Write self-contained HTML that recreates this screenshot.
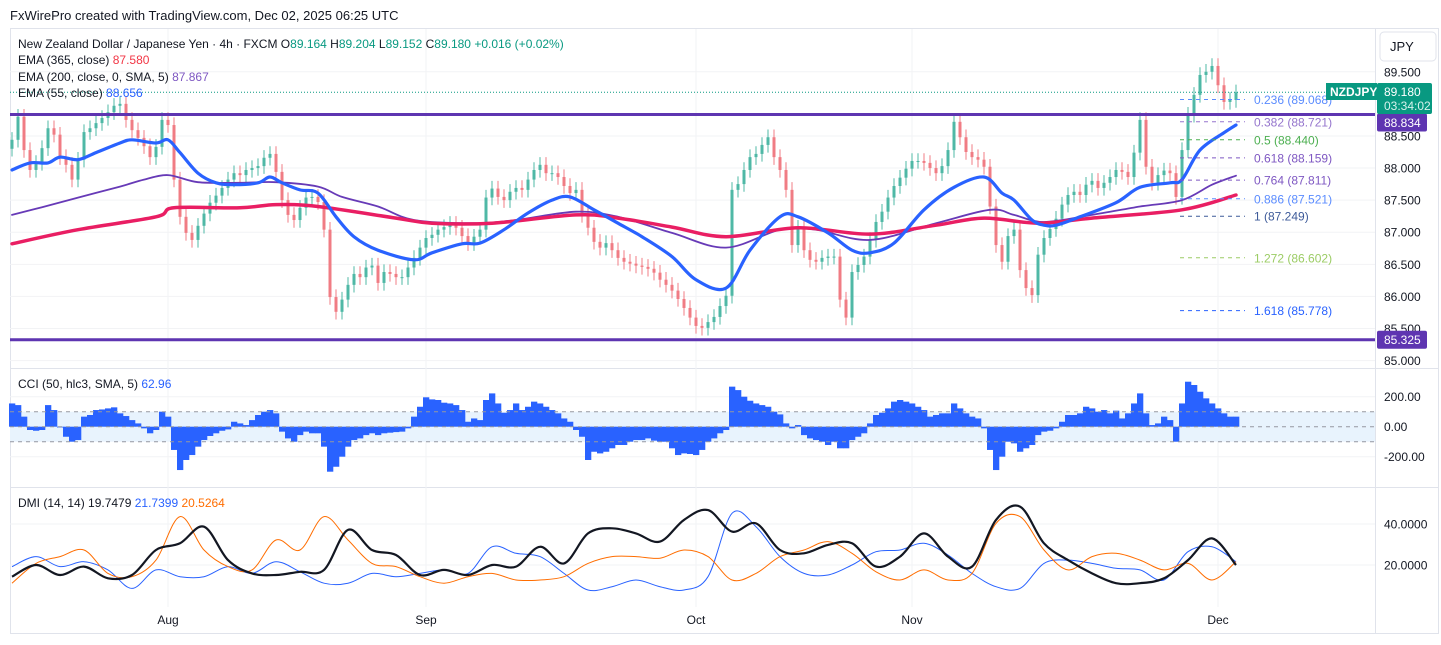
<!DOCTYPE html>
<html><head><meta charset="utf-8">
<style>
html,body{margin:0;padding:0;background:#fff;}
body{width:1441px;height:640px;overflow:hidden;font-family:"Liberation Sans",sans-serif;}
svg text{font-family:"Liberation Sans",sans-serif;}
</style></head>
<body>
<svg id="chart" width="1441" height="640" viewBox="0 0 1441 640" xmlns="http://www.w3.org/2000/svg">
<rect x="0" y="0" width="1441" height="640" fill="#ffffff"/>
<text x="10" y="20" font-size="13" fill="#131722">FxWirePro created with TradingView.com, Dec 02, 2025 06:25 UTC</text>
<rect x="10.5" y="28.5" width="1428" height="605" fill="none" stroke="#e0e3eb"/>
<line x1="1375.5" y1="28" x2="1375.5" y2="634" stroke="#e0e3eb"/>
<line x1="10" y1="368.5" x2="1439" y2="368.5" stroke="#e0e3eb"/>
<line x1="10" y1="487.5" x2="1439" y2="487.5" stroke="#e0e3eb"/>
<g id="grid"></g>
<g id="cci"></g>
<g id="dmi"></g>
<g id="price"></g>
<g id="overlay"></g>
</svg>
<script>
// ---------- data ----------
const closes = [88.44,88.80,88.28,87.97,88.08,88.31,88.62,88.52,88.17,88.05,
87.82,88.13,88.56,88.62,88.70,88.78,88.87,88.97,89.00,88.75,
88.59,88.47,88.34,88.17,88.33,88.75,88.67,87.82,87.24,86.99,
86.88,87.10,87.29,87.46,87.57,87.69,87.82,87.92,87.89,87.97,
88.00,88.03,88.16,88.22,87.94,87.50,87.27,87.19,87.38,87.54,
87.55,87.47,87.04,85.99,85.76,85.95,86.18,86.35,86.30,86.45,
86.48,86.21,86.38,86.35,86.30,86.30,86.45,86.60,86.76,86.91,
86.96,87.04,87.08,87.13,87.07,86.94,86.83,86.93,87.04,87.54,
87.68,87.55,87.50,87.63,87.69,87.66,87.82,87.97,88.05,87.92,
87.92,87.86,87.72,87.61,87.66,87.27,87.07,86.85,86.76,86.83,
86.72,86.60,86.54,86.51,86.48,86.46,86.43,86.37,86.26,86.18,
86.09,85.96,85.82,85.67,85.54,85.51,85.60,85.68,85.85,86.01,
87.66,87.75,87.97,88.17,88.22,88.36,88.48,88.17,87.97,87.66,
86.80,87.07,86.72,86.57,86.54,86.60,86.62,86.62,85.95,85.67,
86.38,86.49,86.62,86.88,87.16,87.32,87.54,87.72,87.85,87.99,
88.11,88.11,88.08,88.00,87.92,88.03,88.28,88.72,88.48,88.25,
88.17,88.13,88.02,87.40,86.80,86.54,86.94,87.04,86.41,86.13,
86.02,86.65,86.91,87.05,87.21,87.43,87.58,87.63,87.58,87.74,
87.80,87.69,87.77,87.86,87.97,87.94,87.86,88.24,88.75,88.02,
87.77,87.89,87.96,87.92,87.55,88.28,88.83,89.14,89.45,89.50,
89.59,89.29,89.03,89.06,89.18];
const firstOpen = 88.30;
// EMA series: [barIndex, price]
const ema55 = [[0,87.97],[3,88.08],[6,88.08],[8,88.17],[11,88.13],[14,88.24],[18,88.39],[20,88.44],[24,88.39],[26,88.44],[28,88.24],[31,87.92],[34,87.77],[37,87.74],[41,87.77],[43,87.86],[45,87.77],[48,87.66],[51,87.61],[54,87.24],[57,86.93],[61,86.72],[67,86.57],[70,86.68],[75,86.82],[78,86.83],[82,87.04],[86,87.30],[90,87.50],[93,87.55],[97,87.35],[101,87.14],[105,86.93],[110,86.62],[114,86.26],[119,86.13],[123,86.72],[128,87.24],[131,87.24],[136,86.99],[140,86.72],[143,86.68],[147,86.83],[152,87.35],[157,87.70],[162,87.86],[165,87.61],[167,87.50],[170,87.19],[172,87.11],[174,87.11],[178,87.24],[184,87.46],[188,87.70],[193,87.77],[195,87.82],[198,88.28],[202,88.55],[204,88.67]];
const ema200 = [[0,87.27],[5,87.39],[11,87.54],[18,87.71],[22,87.82],[26,87.89],[31,87.78],[38,87.77],[44,87.78],[51,87.71],[55,87.55],[61,87.40],[67,87.19],[77,87.14],[84,87.19],[94,87.32],[101,87.24],[110,86.99],[119,86.76],[128,87.04],[134,87.04],[143,86.88],[154,87.14],[163,87.35],[167,87.27],[172,87.16],[180,87.27],[188,87.40],[195,87.50],[200,87.74],[204,87.88]];
const ema365 = [[0,86.82],[11,87.04],[24,87.24],[27,87.38],[38,87.38],[44,87.43],[51,87.40],[64,87.22],[70,87.14],[80,87.14],[94,87.27],[101,87.22],[110,87.08],[119,86.93],[131,87.07],[143,86.97],[154,87.11],[162,87.22],[171,87.14],[180,87.22],[195,87.35],[204,87.58]];
const cciValues = [155,144,67,-22,-27,-22,144,111,0,-67,-100,-89,67,78,111,115,122,129,89,71,
44,22,-11,-44,-22,100,67,-155,-289,-222,-189,-133,-89,-62,-44,-27,-18,33,22,11,
44,78,100,111,89,-33,-78,-100,-56,-33,-44,-44,-133,-300,-267,-200,-133,-89,-78,-56,
-44,-56,-44,-40,-36,-33,-11,67,133,196,182,178,160,155,144,111,33,55,44,178,
222,155,93,111,155,111,133,167,155,133,111,89,55,33,-22,-67,-222,-167,-178,-167,
-144,-122,-122,-100,-89,-89,-78,-93,-100,-100,-144,-189,-178,-182,-189,-155,-100,-78,-44,-22,
267,244,200,173,155,144,133,100,82,22,-11,11,-56,-78,-89,-100,-122,-100,-144,-144,
-89,-67,-44,22,78,93,122,167,178,167,155,133,111,67,78,89,89,155,122,89,
67,55,-11,-155,-289,-200,-100,-111,-167,-144,-122,-56,-33,-27,-11,33,78,78,89,133,
122,100,111,89,107,55,89,155,222,89,11,22,67,44,-100,155,300,278,233,189,
155,122,89,67,67];
const dmiStep = 4;
const adx = [14.3,20.0,15.1,19.2,13.5,15.1,27.3,30.6,38.7,22.4,15.9,15.1,16.7,17.6,37.1,27.3,24.9,15.1,17.6,15.1,20.0,19.2,28.9,20.8,35.4,37.9,35.4,31.4,42.0,46.8,36.3,40.3,27.3,25.7,29.8,30.6,19.2,24.1,35.4,24.1,19.2,42.0,48.5,30.6,22.4,15.9,11.1,11.1,13.5,22.4,33.0,20.0];
const diPlus = [19.2,24.1,19.2,21.6,17.6,8.6,17.6,14.3,14.3,19.2,15.9,21.6,16.7,11.1,11.1,15.9,14.3,15.9,17.6,15.9,28.9,25.7,24.1,15.9,7.8,9.4,12.7,9.4,7.8,14.3,45.2,38.7,24.1,15.9,15.1,20.0,26.5,27.3,30.6,24.9,15.9,9.4,8.6,20.8,22.4,20.8,18.4,17.6,12.7,26.5,28.9,21.6];
const diMinus = [11.1,20.8,24.1,27.3,15.9,14.3,22.4,43.6,27.3,19.2,17.6,32.2,27.3,43.6,32.2,20.8,19.2,14.3,11.1,14.3,15.9,12.7,12.7,14.3,20.8,24.1,24.1,23.3,27.3,24.1,12.7,15.9,24.1,27.3,31.4,25.7,16.7,12.7,17.6,12.7,15.9,40.3,43.6,27.3,17.6,24.1,25.7,22.4,17.6,20.8,12.7,21.6];
const priceTicks = [89.5,88.5,88.0,87.5,87.0,86.5,86.0,85.5,85.0];
const priceTickLabels = ["89.500","88.500","88.000","87.500","87.000","86.500","86.000","85.500","85.000"];
const cciTicks = [200,0,-200];
const cciTickLabels = ["200.00","0.00","-200.00"];
const dmiTicks = [40,20];
const dmiTickLabels = ["40.0000","20.0000"];
const monthLabels = ["Aug","Sep","Oct","Nov","Dec"];
const monthBars = [26,69,114,150,201];
const fibRatios = ["0.236","0.382","0.5","0.618","0.764","0.886","1","1.272","1.618"];
const fibPrices = [89.068,88.721,88.440,88.159,87.811,87.521,87.249,86.602,85.778];
const fibColors = ["#5b8cff","#9575cd","#4caf50","#7e57c2","#7e57c2","#5b8cff","#3d5a99","#9ccc65","#2962ff"];
const hLevels = [88.834,85.325];
const lastPrice = 89.180;

// ---------- scales ----------
const NS="http://www.w3.org/2000/svg";
const xOf = i => 12 + 6*i;
const yP = p => 100 + (89.06 - p)/0.01558;
const yC = v => 426.7 - v*0.15;
const yD = v => 524 + (40 - v)*2.05;
function mk(tag, attrs, parent){const e=document.createElementNS(NS,tag);for(const k in attrs)e.setAttribute(k,attrs[k]);parent.appendChild(e);return e;}
function smooth(pts){let d=`M${pts[0][0]},${pts[0][1]}`;for(let i=0;i<pts.length-1;i++){const p0=pts[i-1]||pts[i],p1=pts[i],p2=pts[i+1],p3=pts[i+2]||p2;const c1x=p1[0]+(p2[0]-p0[0])/6,c1y=p1[1]+(p2[1]-p0[1])/6,c2x=p2[0]-(p3[0]-p1[0])/6,c2y=p2[1]-(p3[1]-p1[1])/6;d+=` C${c1x.toFixed(1)},${c1y.toFixed(1)} ${c2x.toFixed(1)},${c2y.toFixed(1)} ${p2[0].toFixed(1)},${p2[1].toFixed(1)}`;}return d;}
const grid=document.getElementById('grid'), price=document.getElementById('price'), cci=document.getElementById('cci'), dmi=document.getElementById('dmi'), ov=document.getElementById('overlay');

// grid + axis labels
priceTicks.forEach((p,k)=>{
  const l=mk('line',{x1:10,x2:1375,y1:yP(p),y2:yP(p),stroke:'#f2f3f5'},grid);
  
  
  const t=mk('text',{x:1384,y:yP(p)+4.5,'font-size':12,fill:'#131722'},grid);t.textContent=priceTickLabels[k];
  
  
});
monthBars.forEach((b,k)=>{
  const l=mk('line',{x1:xOf(b),x2:xOf(b),y1:29,y2:607,stroke:'#f2f3f5'},grid);
  
  
  const t=mk('text',{x:xOf(b),y:624,'font-size':12,fill:'#131722','text-anchor':'middle'},grid);t.textContent=monthLabels[k];
  
  
});
cciTicks.forEach((v,k)=>{
  const l=mk('line',{x1:10,x2:1375,y1:yC(v),y2:yC(v),stroke:'#f2f3f5'},grid);
  
  
  const t=mk('text',{x:1384,y:yC(v)+4.5,'font-size':12,fill:'#131722'},grid);t.textContent=cciTickLabels[k];
  
  
});
dmiTicks.forEach((v,k)=>{
  const l=mk('line',{x1:10,x2:1375,y1:yD(v),y2:yD(v),stroke:'#f2f3f5'},grid);
  
  
  const t=mk('text',{x:1384,y:yD(v)+4.5,'font-size':12,fill:'#131722'},grid);t.textContent=dmiTickLabels[k];
  
  
});

// CCI band & bars
const band=mk('rect',{x:10,y:yC(100),width:1365,height:yC(-100)-yC(100),fill:'#e8f3fd'},cci);


cciValues.forEach((v,i)=>{
  const y0=yC(0),y1=yC(v);
  const r=mk('rect',{x:xOf(i)-3,y:Math.min(y0,y1),width:6.3,height:Math.max(0.8,Math.abs(y1-y0)),fill:'#2962ff'},cci);
  
  
});
[100,0,-100].forEach(v=>{
  const l=mk('line',{x1:10,x2:1375,y1:yC(v),y2:yC(v),stroke:'#9598a1','stroke-dasharray':'4 4','stroke-width':1},cci);
  
  
});

// DMI lines
function dmiLine(arr,color,w,name){
  const pts=arr.map((v,k)=>[xOf(k*dmiStep),yD(v)]);
  const p=mk('path',{d:smooth(pts),fill:'none',stroke:color,'stroke-width':w,'stroke-linejoin':'round'},dmi);
  
  
}
dmiLine(diPlus,'#2962ff',1,'di-plus-line');
dmiLine(diMinus,'#ff6d00',1,'di-minus-line');
dmiLine(adx,'#131722',2.2,'adx-line');

// candles
closes.forEach((c,i)=>{
  const o=i===0?firstOpen:closes[i-1];
  const up=c>=o, col=up?'#4fb8a6':'#f07c84';
  const hi=Math.max(o,c)+0.12, lo=Math.min(o,c)-0.12;
  const w=mk('line',{x1:xOf(i),x2:xOf(i),y1:yP(hi),y2:yP(lo),stroke:col,'stroke-width':1},price);
  
  
  const b=mk('rect',{x:xOf(i)-1.5,y:yP(Math.max(o,c)),width:3,height:Math.max(1,Math.abs(yP(o)-yP(c))),fill:col},price);
  
  
});

// EMAs
function emaLine(arr,color,w,name){
  const pts=arr.map(([i,p])=>[xOf(i),yP(p)]);
  const e=mk('path',{d:smooth(pts),fill:'none',stroke:color,'stroke-width':w,'stroke-linecap':'round'},price);
  
  
}
emaLine(ema200,'#673ab7',1.8,'ema-200-line');
emaLine(ema365,'#e91e63',3.5,'ema-365-line');
emaLine(ema55,'#2962ff',3.2,'ema-55-line');

// horizontal levels
hLevels.forEach((p,k)=>{
  const l=mk('line',{x1:10,x2:1375,y1:yP(p),y2:yP(p),stroke:'#5e35b1','stroke-width':3},ov);
  
  
  const ty = k===0 ? yP(p)+8 : yP(p);
  const r=mk('rect',{x:1377,y:ty-9,width:50,height:18,rx:2,fill:'#5e35b1'},ov);
  
  
  const t=mk('text',{x:1384,y:ty+4.5,'font-size':12,fill:'#fff'},ov);t.textContent=p.toFixed(3);
  
  
});
// last price line
const lp=mk('line',{x1:10,x2:1375,y1:yP(lastPrice),y2:yP(lastPrice),stroke:'#089981','stroke-dasharray':'1 2','stroke-width':1},ov);



// fib levels
fibPrices.forEach((p,k)=>{
  const l=mk('line',{x1:1180,x2:1245,y1:yP(p),y2:yP(p),stroke:fibColors[k],'stroke-dasharray':'4 4','stroke-width':1},ov);
  
  
  const t=mk('text',{x:1254,y:yP(p)+4.5,'font-size':12,fill:fibColors[k]},ov);t.textContent=`${fibRatios[k]} (${p.toFixed(3)})`;
  
  
});
</script>
<!-- static overlays -->
<svg width="1441" height="640" style="position:absolute;left:0;top:0" xmlns="http://www.w3.org/2000/svg">
<g font-size="12">
<text x="18" y="48" fill="#131722">New Zealand Dollar / Japanese Yen · 4h · FXCM  O<tspan fill="#089981">89.164</tspan>  H<tspan fill="#089981">89.204</tspan>  L<tspan fill="#089981">89.152</tspan>  C<tspan fill="#089981">89.180</tspan>  <tspan fill="#089981">+0.016 (+0.02%)</tspan></text>
<text x="18" y="64" fill="#131722">EMA (365, close)  <tspan fill="#f23645">87.580</tspan></text>
<text x="18" y="81" fill="#131722">EMA (200, close, 0, SMA, 5)  <tspan fill="#7e57c2">87.867</tspan></text>
<text x="18" y="97" fill="#131722">EMA (55, close)  <tspan fill="#2962ff">88.656</tspan></text>
<text x="18" y="388" fill="#131722">CCI (50, hlc3, SMA, 5)  <tspan fill="#2962ff">62.96</tspan></text>
<text x="18" y="507" fill="#131722">DMI (14, 14)  19.7479  <tspan fill="#2962ff">21.7399</tspan>  <tspan fill="#ff6d00">20.5264</tspan></text>
</g>
<rect x="1380" y="32" width="56" height="29" rx="4" fill="#fff" stroke="#e0e3eb"/>
<text x="1390" y="51" font-size="13" fill="#131722">JPY</text>
<rect x="1326" y="83" width="51" height="17" fill="#089981"/>
<text x="1330" y="96" font-size="12" font-weight="bold" fill="#fff">NZDJPY</text>
<rect x="1377" y="83" width="55" height="31" rx="2" fill="#089981"/>
<text x="1384" y="96" font-size="12" fill="#fff">89.180</text>
<text x="1384" y="110" font-size="12" fill="#d6f2ec">03:34:02</text>
</svg>
</body></html>
